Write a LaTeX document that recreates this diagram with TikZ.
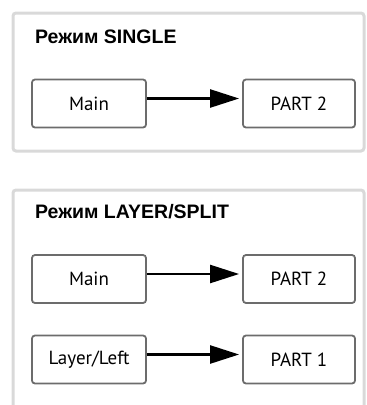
\documentclass[tikz,border=0pt]{standalone}
\usepackage{fontspec}
\setmainfont{Liberation Sans}
\newfontfamily\boxfont{PT Sans}
\usetikzlibrary{positioning, arrows.meta}

\begin{document}
\begin{tikzpicture}[x=1pt, y=-1pt,
  panel/.style={draw=gray!30, line width=3pt, rounded corners=3pt},
  title/.style={anchor=base west, font=\bfseries\fontsize{19.5}{22}\selectfont, inner sep=0pt},
  part/.style={draw=gray!85!black, line width=1.8pt, rounded corners=3pt, fill=white,
    minimum height=48pt, inner sep=0pt, font=\boxfont\fontsize{19}{22}\selectfont},
  link/.style={line width=2.4pt, -{Triangle[length=29pt,width=18pt]}, shorten >=3pt}
]
  \useasboundingbox (0,0) rectangle (367,405);

  % SINGLE mode
  \draw[panel] (13,13) rectangle (364,151);
  \node[title] (t1) at (35,43) {Режим SINGLE};
  \node[part, minimum width=114pt] (main1) at (89,103.5) {Main};
  \node[part, minimum width=112pt] (part1a) at (299,103.5) {PART 2};
  \draw[link] ([yshift=5pt]main1.east) -- ([yshift=5pt]part1a.west);

  % LAYER/SPLIT mode
  \draw[panel] (13,190) rectangle (364,430);
  \node[title] (t2) at (35,218) {Режим LAYER/SPLIT};
  \node[part, minimum width=114pt] (main2) at (89,279) {Main};
  \node[part, minimum width=112pt] (part2b) at (299,279) {PART 2};
  \node[part, minimum width=114pt] (layer) at (89,359.5) {Layer/Left};
  \node[part, minimum width=112pt] (part1b) at (299,359.5) {PART 1};
  \draw[link] ([yshift=5pt]main2.east) -- ([yshift=5pt]part2b.west);
  \draw[link] ([yshift=5pt]layer.east) -- ([yshift=5pt]part1b.west);
\end{tikzpicture}
\end{document}
